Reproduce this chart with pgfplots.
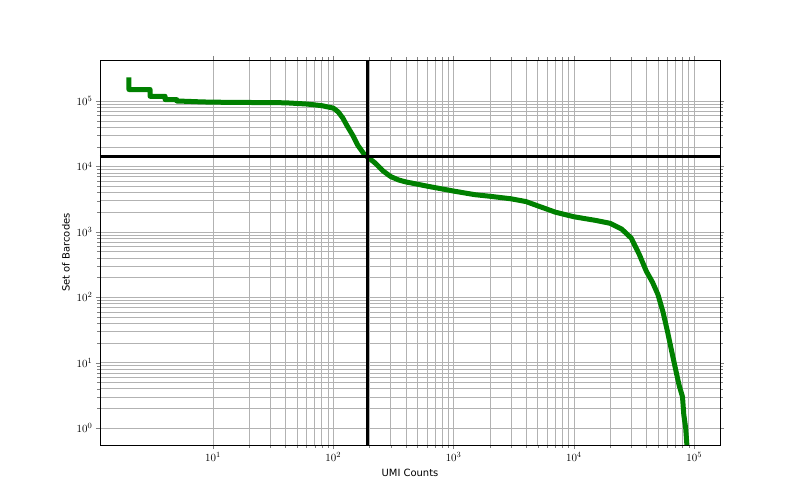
\documentclass[border=0pt]{standalone}
\usepackage{pgfplots}
\pgfplotsset{compat=1.18}
\usepackage{fontspec}
\setmainfont{DejaVu Sans}
\setsansfont{DejaVu Sans}
\begin{document}
\begin{tikzpicture}
\begin{axis}[
  at={(0,0)}, anchor=south west,
  scale only axis, width=620bp, height=385bp,
  xmode=log, ymode=log,
  xmin=1.15, xmax=164000, ymin=0.55, ymax=424000,
  grid=both, major grid style={gray!60}, minor grid style={gray!60},
  tick align=outside, label style={font=\fontsize{10}{12}\selectfont},
  ticklabel style={font=\fontsize{11}{13}\selectfont},
  xlabel={UMI Counts}, ylabel={Set of Barcodes},
  xtick={10,100,1000,10000,100000},
  ytick={1,10,100,1000,10000,100000},
]
\addplot[green!50!black, line width=5bp, line join=round] coordinates {
(2,230000)(2,150000)(3,150000)(3,118000)(4,118000)(4,105000)(5,105000)(5,100000)(6,99000)(8,97000)(10,96000)(20,95000)(40,94000)(60,90000)(80,85000)(100,78000)(110,68000)(120,55000)(130,42000)(145,30000)(160,21000)(180,15500)(192,14000)(220,11500)(260,8500)(300,7000)(350,6200)(400,5800)(600,5000)(1000,4200)(1500,3700)(2000,3500)(3000,3200)(4000,2900)(5000,2500)(7000,2000)(10000,1700)(15000,1500)(20000,1350)(25000,1100)(30000,800)(35000,450)(40000,250)(45000,170)(50000,110)(55000,60)(60000,30)(65000,15)(70000,8)(75000,4.5)(80000,3)(82000,1.6)(85000,1)(87000,0.55)
};
\addplot[black, line width=3bp] coordinates {(192,0.55)(192,424000)};
\addplot[black, line width=3bp] coordinates {(1.15,14200)(164000,14200)};
\end{axis}
\path[use as bounding box] (-100bp,-55bp) rectangle (700bp,445bp);
\end{tikzpicture}
\end{document}
